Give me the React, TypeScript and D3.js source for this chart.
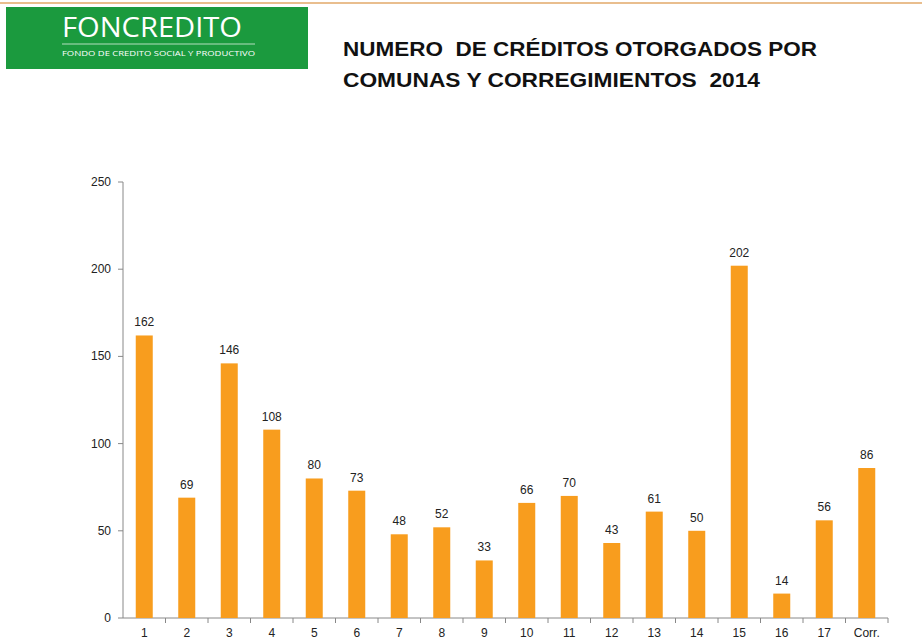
import React from "react";
import * as d3 from "d3";

const categories = ["1","2","3","4","5","6","7","8","9","10","11","12","13","14","15","16","17","Corr."];
const values = [162,69,146,108,80,73,48,52,33,66,70,43,61,50,202,14,56,86];
const yTicks = [0,50,100,150,200,250];
const titleLines = ["NUMERO  DE CRÉDITOS OTORGADOS POR", "COMUNAS Y CORREGIMIENTOS  2014"];
const titleWidths = [474, 417];

export default function App() {
  const W = 922, H = 643;
  const left = 123, right = 888, top = 182, bottom = 618;
  const x = d3.scaleBand<string>().domain(categories).range([left, right]).paddingInner(0.6).paddingOuter(0.3);
  const xb = d3.scaleBand<string>().domain(categories).range([left, right]);
  const y = d3.scaleLinear().domain([0, 250]).range([bottom, top]);
  const font = "Arial, 'Liberation Sans', sans-serif";
  return (
    <svg width={W} height={H} style={{ position: "absolute", left: 0, top: 0, background: "#fff" }}>
      <line x1={0} x2={W} y1={3} y2={3} stroke="#e2a868" strokeWidth={1.5} />
      <rect x={6} y={7} width={302} height={62} fill="#1b9a3e" />
      <text x={62} y={37} fill="#fff" fontFamily="'Open Sans', 'Noto Sans', sans-serif" fontWeight="500" fontSize={27} textLength={180} lengthAdjust="spacingAndGlyphs">FONCREDITO</text>
      <line x1={62} x2={255} y1={44} y2={44} stroke="#fff" strokeWidth={0.8} opacity={0.85} />
      <text x={62} y={56} fill="#fff" fontFamily="'Open Sans', 'Noto Sans', sans-serif" fontSize={8} textLength={193} lengthAdjust="spacingAndGlyphs">FONDO DE CREDITO SOCIAL Y PRODUCTIVO</text>
      {titleLines.map((t, i) => (
        <text key={i} x={343} y={56 + i * 31} fontFamily={font} fontWeight="bold" fontSize={20} fill="#111" style={{ whiteSpace: "pre" }} textLength={titleWidths[i]} lengthAdjust="spacingAndGlyphs">{t}</text>
      ))}
      <line x1={left} x2={left} y1={top} y2={bottom} stroke="#888" />
      <line x1={left} x2={right} y1={bottom} y2={bottom} stroke="#888" />
      {yTicks.map(t => (
        <g key={t}>
          <line x1={left - 5} x2={left} y1={y(t)} y2={y(t)} stroke="#888" />
          <text x={left - 12} y={y(t) + 4} textAnchor="end" fontFamily={font} fontSize={12} fill="#222">{t}</text>
        </g>
      ))}
      {categories.map((c, i) => (
        <g key={c}>
          <line x1={(xb(c) as number) + xb.bandwidth()} x2={(xb(c) as number) + xb.bandwidth()} y1={bottom} y2={bottom + 5} stroke="#888" />
          <rect x={x(c)} y={y(values[i])} width={x.bandwidth()} height={bottom - y(values[i])} fill="#f89d1e" />
          <text x={(x(c) as number) + x.bandwidth() / 2} y={y(values[i]) - 9} textAnchor="middle" fontFamily={font} fontSize={12} fill="#222">{values[i]}</text>
          <text x={(xb(c) as number) + xb.bandwidth() / 2} y={637} textAnchor="middle" fontFamily={font} fontSize={12} fill="#222">{c}</text>
        </g>
      ))}
    </svg>
  );
}
